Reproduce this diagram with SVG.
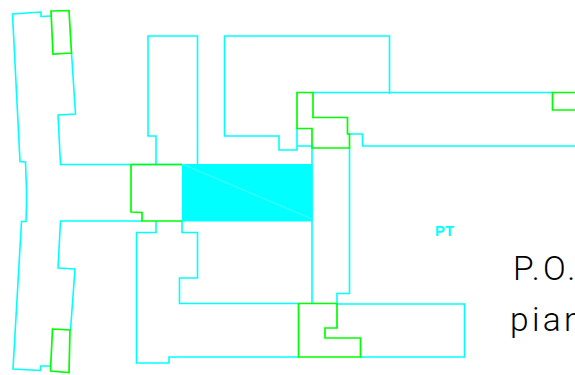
<svg xmlns="http://www.w3.org/2000/svg" width="575" height="375" viewBox="0 0 575 375">
<style>
.c{fill:none;stroke:#00ffff;stroke-width:1.6}
.g{fill:none;stroke:#00ff00;stroke-width:1.7}
.t{font-family:"Roboto","Liberation Sans",sans-serif;font-weight:300;font-size:33.500px;letter-spacing:3.300px;fill:#000}
</style>
<rect width="575" height="375" fill="#fff"/>
<rect x="182" y="164" width="130.500" height="57.500" fill="#00ffff"/>
<path d="M182 164L312 219" stroke="#80ffff" stroke-width="0.6" fill="none"/>
<path class="c" d="M51 16L41 16.500L41 12L12.500 14L20 161.500L25.500 162L26.500 190L26.500 205L26 221.500L21.500 221.500L13 369L40.500 370.500L40.500 366L50.500 366"/>
<path class="c" d="M71.500 53L75.500 114L58 115L60.500 164.500L182 164.500"/>
<path class="c" d="M70.500 330L75 269L58 268L60.500 221L142 221"/>
<path class="c" d="M156 164.500L156 136L148 136L148 36L197.500 36L197.500 164"/>
<path class="c" d="M156 221L156 232.500L136.500 232.500L136.500 363L169 363L169 357L298.500 357"/>
<path class="c" d="M182 221L182 232.500L197.500 232.500L197.500 278L179.500 278L179.500 303.500L298.500 303.500"/>
<path class="c" d="M297 128.500L297 150L279 150L279 136L224.500 136L224.500 36L389.500 36L389.500 94"/>
<path class="c" d="M297 146L312 146L312 303.500"/>
<path class="c" d="M313 92.500L552.500 92.500"/>
<path class="c" d="M347.500 134L362.500 134L362.500 146L575 146"/>
<path class="c" d="M349.500 148L349.500 293.500L337 293.500L337 304L464.500 304L464.500 357L360.500 357"/>
<path class="g" d="M51 11L69 10.500L71.500 53L53 54Z"/>
<path class="g" d="M52.500 329L70 330L69 372.500L50.500 371Z"/>
<path class="g" d="M182 164.500L131 164.500L131 212L142 212.500L142 221L182 221"/>
<path class="g" d="M297 92.500L313 92.500L313 117.500L347.500 117.500L347.500 134L349.500 134L349.500 148L312 148L312 128.500L297 128.500Z"/>
<path class="g" d="M575 92.500L552.500 92.500L552.500 110L575 110"/>
<path class="g" d="M298.500 303.500L337 303.500L337 328L325 328L325 338L360.500 338L360.500 357L298.500 357Z"/>
<text x="435" y="236" font-family="Liberation Sans, sans-serif" font-size="14.500" font-weight="700" fill="#00ffff" textLength="19" lengthAdjust="spacingAndGlyphs">PT</text>
<text class="t" x="513" y="280">P.O.</text>
<text class="t" x="510" y="331">pian</text>
</svg>
